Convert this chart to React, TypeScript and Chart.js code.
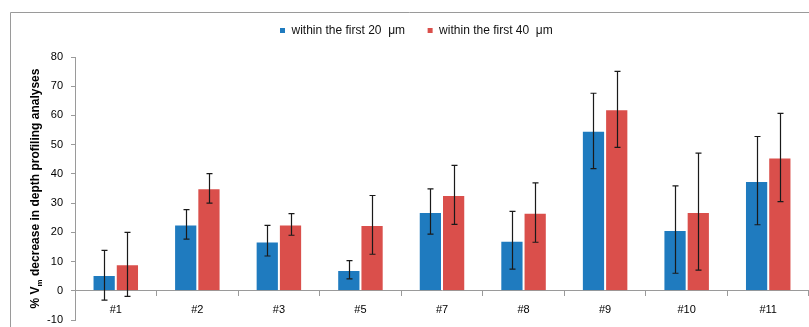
import React, { useEffect, useRef } from "react";
import { Chart, registerables } from "chart.js";

Chart.register(...registerables);

const categories = ["#1", "#2", "#3", "#5", "#7", "#8", "#9", "#10", "#11"];
const seriesLabels = ["within the first 20  \u03bcm", "within the first 40  \u03bcm"];
const values20 = [5.4, 22.7, 16.9, 7.1, 27.0, 17.1, 54.8, 20.8, 37.6];
const low20 = [-3.2, 17.7, 11.9, 4.1, 19.4, 7.4, 41.8, 6.0, 22.6];
const high20 = [13.8, 27.8, 22.4, 10.3, 34.9, 27.2, 67.6, 35.9, 52.8];
const values40 = [9.1, 35.1, 22.7, 22.5, 32.8, 26.7, 62.1, 27.0, 45.6];
const low40 = [-1.9, 30.0, 19.0, 12.5, 22.7, 16.6, 49.1, 7.1, 30.5];
const high40 = [20.0, 40.1, 26.4, 32.6, 42.9, 36.9, 75.1, 47.1, 60.7];
const yMin = -10;
const yMax = 80;
const yStep = 10;

const colors = ["#1f7bbf", "#da4f4b"];
const errLow = [low20, low40];
const errHigh = [high20, high40];

const tickFont = "'Liberation Sans', Arial, sans-serif";

const errorBarPlugin = {
  id: "errorBars",
  afterDatasetsDraw(chart: any) {
    const ctx = chart.ctx;
    const y = chart.scales.y;
    ctx.save();
    ctx.strokeStyle = "#1a1a1a";
    ctx.lineWidth = 1.2;
    chart.data.datasets.forEach((_: any, i: number) => {
      const meta = chart.getDatasetMeta(i);
      meta.data.forEach((bar: any, j: number) => {
        const x = Math.round(bar.x) + 0.5;
        const yl = y.getPixelForValue(errLow[i][j]);
        const yh = y.getPixelForValue(errHigh[i][j]);
        ctx.beginPath();
        ctx.moveTo(x, yl);
        ctx.lineTo(x, yh);
        ctx.moveTo(x - 3, yl);
        ctx.lineTo(x + 3, yl);
        ctx.moveTo(x - 3, yh);
        ctx.lineTo(x + 3, yh);
        ctx.stroke();
      });
    });
    ctx.restore();
  },
};

const framePlugin = {
  id: "frame",
  beforeDraw(chart: any) {
    const ctx = chart.ctx;
    ctx.save();
    ctx.strokeStyle = "#9a9a9a";
    ctx.lineWidth = 1;
    ctx.beginPath();
    ctx.moveTo(10.5, chart.height);
    ctx.lineTo(10.5, 12.5);
    ctx.lineTo(chart.width, 12.5);
    ctx.stroke();
    ctx.restore();
  },
};

const legendPlugin = {
  id: "customLegend",
  afterDraw(chart: any) {
    const ctx = chart.ctx;
    const box = 5;
    const gapBoxText = 6.5;
    const gapItems = 22.5;
    ctx.save();
    ctx.font = `12px ${tickFont}`;
    let x = 280;
    const cy = 30.5;
    seriesLabels.forEach((l, i) => {
      ctx.fillStyle = colors[i];
      ctx.fillRect(x, cy - box / 2, box, box);
      x += box + gapBoxText;
      ctx.fillStyle = "#111";
      ctx.textBaseline = "middle";
      ctx.textAlign = "left";
      ctx.fillText(l, x, cy);
      x += ctx.measureText(l).width + gapItems;
    });
    ctx.restore();
  },
};

const yTitlePlugin = {
  id: "yTitle",
  afterDraw(chart: any) {
    const ctx = chart.ctx;
    const area = chart.chartArea;
    const cy = (area.top + area.bottom) / 2;
    const big = `bold 12px ${tickFont}`;
    const small = `bold 8px ${tickFont}`;
    const p1 = "% V";
    const p2 = "m";
    const p3 = " decrease in depth profiling analyses";
    ctx.save();
    ctx.fillStyle = "#000";
    ctx.textBaseline = "alphabetic";
    ctx.font = big;
    const w1 = ctx.measureText(p1).width;
    const w3 = ctx.measureText(p3).width;
    ctx.font = small;
    const w2 = ctx.measureText(p2).width;
    const total = w1 + w2 + w3;
    ctx.translate(39, cy);
    ctx.rotate(-Math.PI / 2);
    let x = -total / 2;
    ctx.font = big;
    ctx.fillText(p1, x, 0);
    x += w1;
    ctx.font = small;
    ctx.fillText(p2, x, 3);
    x += w2;
    ctx.font = big;
    ctx.fillText(p3, x, 0);
    ctx.restore();
  },
};

export default function App() {
  const ref = useRef<HTMLCanvasElement | null>(null);

  useEffect(() => {
    if (!ref.current) return;
    const chart = new Chart(ref.current, {
      type: "bar",
      data: {
        labels: categories,
        datasets: [
          {
            label: seriesLabels[0],
            data: values20,
            backgroundColor: colors[0],
            borderColor: "rgba(255,255,255,0.45)",
            borderWidth: 1,
            categoryPercentage: 0.57,
            barPercentage: 1.0,
          },
          {
            label: seriesLabels[1],
            data: values40,
            backgroundColor: colors[1],
            borderColor: "rgba(255,255,255,0.45)",
            borderWidth: 1,
            categoryPercentage: 0.57,
            barPercentage: 1.0,
          },
        ],
      },
      options: {
        responsive: false,
        animation: false,
        layout: { padding: { left: 0, right: 0, top: 57, bottom: 7 } },
        plugins: {
          legend: { display: false },
          tooltip: { enabled: false },
        },
        scales: {
          x: {
            position: { y: 0 } as any,
            grid: {
              drawOnChartArea: false,
              offset: true,
              tickLength: 5,
              color: "#9a9a9a",
            },
            border: { color: "#9a9a9a" },
            ticks: {
              color: "#000",
              padding: 8,
              font: { family: tickFont, size: 11 },
            },
          },
          y: {
            min: yMin,
            max: yMax,
            afterFit: (s: any) => {
              s.width = 75;
              s.paddingTop = 0;
              s.paddingBottom = 0;
            },
            grid: {
              drawOnChartArea: false,
              tickLength: 4,
              color: "#9a9a9a",
            },
            border: { color: "#9a9a9a" },
            ticks: {
              stepSize: yStep,
              color: "#000",
              padding: 8,
              font: { family: tickFont, size: 11 },
            },
          },
        },
      },
      plugins: [framePlugin, errorBarPlugin, yTitlePlugin, legendPlugin],
    });
    return () => chart.destroy();
  }, []);

  return (
    <div style={{ position: "absolute", left: 0, top: 0, width: 809, height: 327, background: "#fff" }}>
      <canvas ref={ref} width={809} height={327} style={{ width: 809, height: 327, display: "block" }} />
    </div>
  );
}
